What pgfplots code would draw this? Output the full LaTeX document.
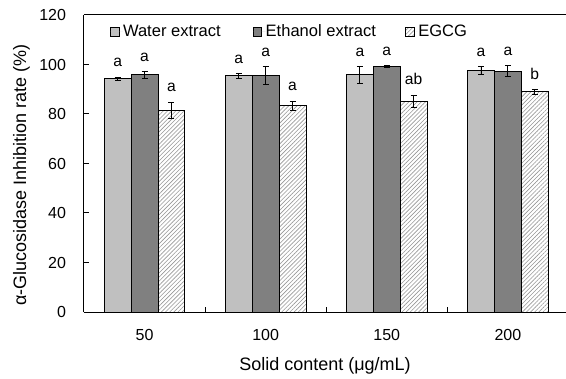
\documentclass[border=0pt]{standalone}
\usepackage{fontspec}
\setmainfont{Liberation Sans}
\usepackage{pgfplots}
\usepackage{pgfplotstable}
\pgfplotsset{compat=1.18}
\usetikzlibrary{patterns,patterns.meta}
\definecolor{lightbar}{RGB}{192,192,192}
\definecolor{darkbar}{RGB}{128,128,128}
\definecolor{hatch}{RGB}{150,150,150}
\pgfplotstableread{
x w we e ee g ge wl el gl
0 94.2 0.7 95.8 1.4 81.6 3.2 a a a
1 95.4 1.0 95.7 3.6 83.3 1.9 a a a
2 95.8 3.5 99.2 0.4 85.2 2.5 a a ab
3 97.7 1.6 97.3 2.2 89.0 1.0 a a b
}\datatable
\begin{document}
\begin{tikzpicture}
\begin{axis}[
  at={(0,0)}, anchor=south west,
  scale only axis, width=361.5pt, height=222.75pt,
  xmin=-0.5, xmax=3.48, ymin=0, ymax=120,
  axis lines*=left,
  axis line style={line width=0.75pt, black},
  tick align=inside,
  major tick length=3.75pt,
  tick style={black, line width=0.75pt},
  ytick={0,20,...,120},
  xtick={0.5,1.5,2.5}, xticklabels={},
  extra x ticks={0,1,2,3}, extra x tick labels={50,100,150,200},
  extra x tick style={major tick length=0pt, xticklabel style={yshift=-9.5pt}},
  yticklabel shift=10pt,
  tick label style={font=\fontsize{12}{14}\selectfont},
  /pgf/number format/assume math mode=true,
  xlabel={Solid content (μg/mL)},
  ylabel={α-Glucosidase Inhibition rate (\%)},
  label style={font=\fontsize{13.5}{16}\selectfont},
  xlabel style={at={([yshift=-40.5pt]axis description cs:0.5,0)}, anchor=center},
  ylabel style={at={([xshift=-46.9pt]axis description cs:0,0.461)}, anchor=center},
  legend columns=3,
  legend style={draw=none, fill=none, at={(axis description cs:0.054,0.944)}, anchor=west,
    font=\fontsize{12.4}{14}\selectfont, inner sep=0pt, outer sep=0pt,
    nodes={inner sep=0pt}, /tikz/column sep=0pt},
  legend image code/.code={\draw[#1, line width=0.5pt] (0pt,-3.25pt) rectangle (6.5pt,3.25pt); \path[draw=none] (0pt,0pt) -- (9.5pt,0pt);},
  error bars/error bar style={black, line width=0.6pt},
  error bars/error mark options={rotate=90, black, mark size=2.25pt, line width=0.6pt},
  after end axis/.code={\draw[line width=0.75pt, black] (rel axis cs:0,1) -- (rel axis cs:1,1);},
]
\addplot[ybar, bar width=0.222, bar shift=0, fill=lightbar, draw=black, line width=0.6pt,
  error bars/.cd, y dir=both, y explicit]
  table[x expr=\thisrow{x}-0.222, y=w, y error=we] {\datatable};
\addlegendentry{Water extract\hspace*{24pt}}
\addplot[ybar, bar width=0.222, bar shift=0, fill=darkbar, draw=black, line width=0.6pt,
  error bars/.cd, y dir=both, y explicit]
  table[x=x, y=e, y error=ee] {\datatable};
\addlegendentry{Ethanol extract\hspace*{22pt}}
\addplot[ybar, bar width=0.222, bar shift=0, pattern={Lines[angle=45, distance=2.2pt, line width=0.45pt]}, pattern color=hatch, draw=black, line width=0.6pt,
  error bars/.cd, y dir=both, y explicit]
  table[x expr=\thisrow{x}+0.222, y=g, y error=ge] {\datatable};
\addlegendentry{EGCG}
\addplot[draw=none, mark=none, forget plot, nodes near coords, point meta=explicit symbolic,
  every node near coord/.append style={anchor=south, yshift=4pt, font=\fontsize{11.7}{14}\selectfont, text=black}]
  table[x expr=\thisrow{x}-0.222, y expr=\thisrow{w}+\thisrow{we}, meta=wl] {\datatable};
\addplot[draw=none, mark=none, forget plot, nodes near coords, point meta=explicit symbolic,
  every node near coord/.append style={anchor=south, yshift=4pt, font=\fontsize{11.7}{14}\selectfont, text=black}]
  table[x expr=\thisrow{x}, y expr=\thisrow{e}+\thisrow{ee}, meta=el] {\datatable};
\addplot[draw=none, mark=none, forget plot, nodes near coords, point meta=explicit symbolic,
  every node near coord/.append style={anchor=south, yshift=4pt, font=\fontsize{11.7}{14}\selectfont, text=black}]
  table[x expr=\thisrow{x}+0.222, y expr=\thisrow{g}+\thisrow{ge}, meta=gl] {\datatable};
\end{axis}
\pgfresetboundingbox
\path[use as bounding box] (-63pt,-49.5pt) rectangle (361.5pt,234pt);
\end{tikzpicture}
\end{document}
